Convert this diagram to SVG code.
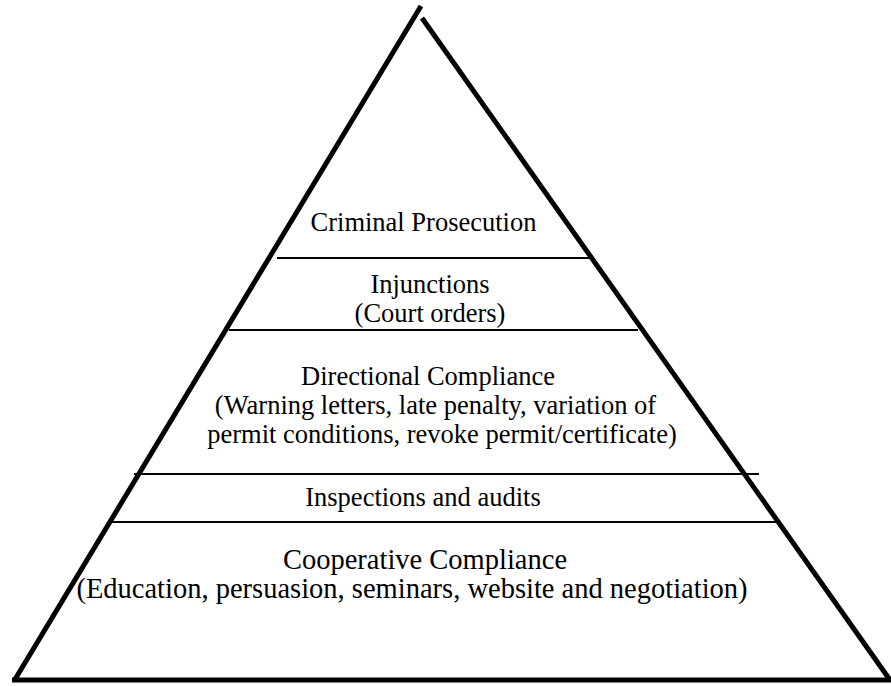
<svg xmlns="http://www.w3.org/2000/svg" width="891" height="686" viewBox="0 0 891 686">
<style>
.edge{stroke:#000;stroke-width:5;fill:none;stroke-linecap:butt}
.div{stroke:#000;stroke-width:2;fill:none}
text{font-family:"Liberation Serif","Times New Roman",serif;font-size:26.5px;fill:#000;text-anchor:middle}
.big{font-size:28.5px}
</style>
<rect width="891" height="686" fill="#fff"/>
<g id="pyramid">
<line class="edge" x1="421" y1="6" x2="14" y2="681"/>
<line class="edge" x1="422" y1="18" x2="890" y2="680"/>
<line class="edge" x1="12" y1="680" x2="891" y2="680"/>
</g>
<g id="dividers">
<line class="div" x1="277" y1="258" x2="592" y2="258"/>
<line class="div" x1="229" y1="330" x2="638" y2="330"/>
<line class="div" x1="134" y1="474" x2="759" y2="474"/>
<line class="div" x1="112" y1="522" x2="778" y2="522"/>
</g>
<g id="criminal"><text x="423.5" y="231">Criminal Prosecution</text></g>
<g id="injunctions"><text x="430" y="293">Injunctions</text><text x="430" y="322">(Court orders)</text></g>
<g id="directional"><text x="428" y="385">Directional Compliance</text><text x="435.5" y="414">(Warning letters, late penalty, variation of</text><text x="442" y="443">permit conditions, revoke permit/certificate)</text></g>
<g id="inspections"><text x="423" y="506">Inspections and audits</text></g>
<g id="cooperative"><text class="big" x="425" y="569">Cooperative Compliance</text><text class="big" x="412" y="598">(Education, persuasion, seminars, website and negotiation)</text></g>
</svg>
